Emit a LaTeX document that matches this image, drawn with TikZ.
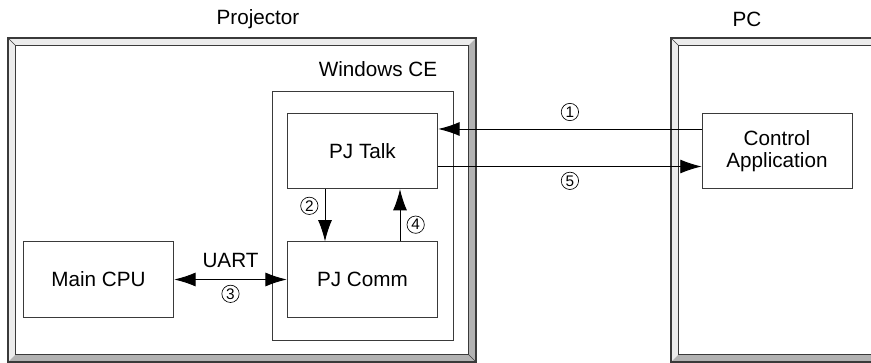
\documentclass[tikz,border=0pt]{standalone}
\usepackage{fontspec}
\setmainfont{Liberation Sans}
\usepackage{tikz}
\usetikzlibrary{arrows.meta}
\usetikzlibrary{calc}

\definecolor{bevlight}{HTML}{ECECEC}
\definecolor{bevdark}{HTML}{B2B2B2}
\definecolor{edge}{HTML}{3A3A3A}

% beveled frame: #1 = top left corner, #2 = bottom right corner
\newcommand{\bevelframe}[2]{%
  \coordinate (o1) at (#1); \coordinate (o2) at (#2);
  \coordinate (i1) at ($(#1)+(7.5,7.5)$); \coordinate (i2) at ($(#2)+(-7.5,-7.5)$);
  \fill[bevlight] (o1) -- (o2 |- o1) -- (i2 |- i1) -- (i1) -- cycle;
  \fill[bevlight] (o1) -- (i1) -- (i1 |- i2) -- (o1 |- o2) -- cycle;
  \fill[bevdark] (o2 |- o1) -- (o2) -- (i2) -- (i2 |- i1) -- cycle;
  \fill[bevdark] (o1 |- o2) -- (o2) -- (i2) -- (i1 |- i2) -- cycle;
  \draw[edge,line width=0.8pt] (o1) rectangle (o2);
  \draw[edge,line width=0.6pt] (i1) rectangle (i2);
  \draw[edge,line width=0.5pt] (o1) -- (i1) (o2) -- (i2);
}

\tikzset{
  block/.style={draw=edge,line width=0.6pt,minimum width=113pt,minimum height=56.5pt,align=center,inner sep=0pt},
  arr/.style={line width=0.7pt,-{Latex[length=16pt,width=10.5pt]}},
  darr/.style={line width=0.7pt,{Latex[length=16pt,width=10.5pt]}-{Latex[length=16pt,width=10.5pt]}},
  num/.style={circle,draw,line width=0.5pt,minimum size=13pt,inner sep=0pt,font=\fontsize{11.5}{11.5}\selectfont}
}

\begin{document}
\begin{tikzpicture}[x=0.75pt,y=-0.75pt,font=\fontsize{15.5}{18}\selectfont]
\useasboundingbox (0,0) rectangle (871,363);

\node (projtitle) at (258,19) {Projector};
\node (pctitle) at (747,19) {PC};

\bevelframe{8,38}{476,362}
\begin{scope}
  \clip (0,0) rectangle (871,363);
  \bevelframe{671,38}{900,362}
\end{scope}

\node[draw=edge,line width=0.6pt,minimum width=135.75pt,minimum height=186.75pt] (wince) at (362.5,215.5) {};
\node (wincetitle) at (378,69) {Windows CE};

\node[block] (talk) at (362.5,151) {PJ Talk};
\node[block] (comm) at (362.5,279.5) {PJ Comm};
\node[block] (cpu) at (98.5,279.5) {Main CPU};
\node[block,minimum width=112.5pt] (ctrl) at (777,151) {Control\\[-2pt]Application};

\draw[arr] ($(ctrl.west)+(0,-22)$) -- node[num,above=6pt] {1} ($(talk.east)+(0,-22)$);
\draw[arr] ($(talk.east)+(0,15.5)$) -- node[num,below=4pt] {5} ($(ctrl.west)+(0,15.5)$);
\draw[arr] ($(talk.south)+(-37.5,0)$) -- node[num,left=5pt,pos=0.32] {2} ($(comm.north)+(-37.5,0)$);
\draw[arr] ($(comm.north)+(37.5,0)$) -- node[num,right=5pt,pos=0.32] {4} ($(talk.south)+(37.5,0)$);
\draw[darr] (cpu.east) -- node[above=5pt] {UART} node[num,below=4pt] {3} (comm.west);
\end{tikzpicture}
\end{document}
